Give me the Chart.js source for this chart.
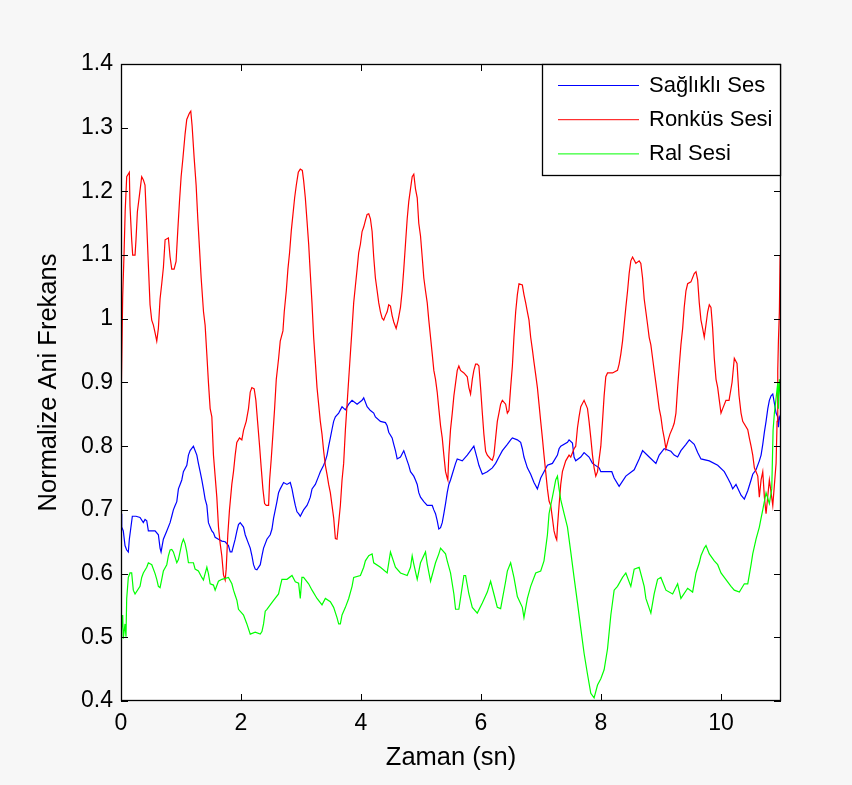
<!DOCTYPE html>
<html>
<head>
<meta charset="utf-8">
<script src="https://cdn.jsdelivr.net/npm/chart.js@4.4.0/dist/chart.umd.min.js"></script>
<style>
  html, body { margin: 0; padding: 0; background: #f7f7f7; }
  canvas { display: block; }
</style>
</head>
<body>
<canvas id="myChart" width="852" height="785"></canvas>
<script>
// tick positions
const xTicks = [0, 2, 4, 6, 8, 10];
const yTicks = [0.4, 0.5, 0.6, 0.7, 0.8, 0.9, 1.0, 1.1, 1.2, 1.3, 1.4];
const seriesNames = ['Sağlıklı Ses', 'Ronküs Sesi', 'Ral Sesi'];

// Sağlıklı Ses (blue)
const healthyTime = [
  0,0.012,0.038,0.067,0.095,0.122,0.139,0.189,0.25,0.317,
  0.372,0.401,0.429,0.456,0.513,0.568,0.623,0.651,0.668,0.706,
  0.763,0.818,0.846,0.873,0.902,0.93,0.957,0.985,1.013,1.04,
  1.097,1.124,1.152,1.207,1.264,1.29,1.319,1.347,1.374,1.402,
  1.431,1.457,1.486,1.514,1.541,1.569,1.624,1.681,1.736,1.791,
  1.82,1.848,1.875,1.903,1.932,1.958,1.987,2.042,2.07,2.125,
  2.154,2.182,2.209,2.237,2.265,2.321,2.349,2.376,2.432,2.487,
  2.516,2.543,2.571,2.599,2.626,2.654,2.71,2.766,2.821,2.85,
  2.876,2.905,2.933,2.96,2.988,3.043,3.1,3.127,3.155,3.184,
  3.239,3.294,3.322,3.377,3.406,3.434,3.461,3.489,3.518,3.544,
  3.573,3.628,3.684,3.74,3.795,3.851,3.935,4.018,4.045,4.102,
  4.157,4.212,4.24,4.324,4.407,4.436,4.462,4.519,4.546,4.574,
  4.603,4.658,4.713,4.77,4.796,4.825,4.88,4.908,4.937,4.963,
  4.992,5.047,5.104,5.187,5.214,5.242,5.27,5.297,5.326,5.354,
  5.381,5.409,5.437,5.464,5.492,5.521,5.576,5.604,5.688,5.771,
  5.826,5.881,5.938,5.965,6.022,6.105,6.189,6.244,6.299,6.356,
  6.439,6.494,6.523,6.606,6.661,6.689,6.716,6.773,6.828,6.883,
  6.94,6.995,7.05,7.107,7.19,7.274,7.301,7.329,7.441,7.468,
  7.524,7.551,7.579,7.663,7.718,7.801,7.858,7.969,7.997,8.18,
  8.219,8.302,8.414,8.553,8.636,8.693,8.803,8.915,8.97,9.053,
  9.165,9.22,9.277,9.332,9.416,9.471,9.554,9.611,9.666,9.805,
  9.945,10.055,10.112,10.167,10.195,10.25,10.334,10.389,10.446,10.501,
  10.529,10.584,10.639,10.668,10.696,10.723,10.751,10.78,10.806,10.835,
  10.863,10.918,10.946,10.957,10.973,11.0
];
const healthyValues = [
  0.694,0.673,0.667,0.644,0.637,0.634,0.654,0.69,0.69,0.688,
  0.68,0.685,0.683,0.667,0.667,0.667,0.661,0.64,0.634,0.654,
  0.667,0.68,0.69,0.70,0.707,0.713,0.733,0.74,0.747,0.76,
  0.77,0.786,0.793,0.80,0.786,0.773,0.76,0.747,0.733,0.717,
  0.707,0.68,0.673,0.667,0.664,0.657,0.654,0.651,0.65,0.644,
  0.634,0.634,0.644,0.654,0.667,0.677,0.68,0.673,0.661,0.647,
  0.64,0.628,0.614,0.607,0.606,0.614,0.628,0.64,0.654,0.661,
  0.67,0.687,0.70,0.713,0.727,0.733,0.743,0.74,0.743,0.733,
  0.72,0.707,0.697,0.694,0.69,0.70,0.707,0.713,0.72,0.733,
  0.74,0.753,0.76,0.77,0.777,0.786,0.80,0.813,0.827,0.839,
  0.846,0.852,0.862,0.857,0.866,0.872,0.866,0.872,0.876,0.862,
  0.856,0.852,0.846,0.839,0.837,0.832,0.822,0.813,0.803,0.793,
  0.78,0.783,0.793,0.777,0.77,0.76,0.753,0.747,0.74,0.727,
  0.72,0.713,0.707,0.707,0.70,0.694,0.683,0.67,0.672,0.68,
  0.694,0.71,0.727,0.74,0.747,0.756,0.773,0.78,0.777,0.786,
  0.793,0.80,0.78,0.77,0.756,0.76,0.766,0.773,0.783,0.793,
  0.803,0.81,0.813,0.81,0.806,0.796,0.783,0.766,0.756,0.743,
  0.733,0.75,0.76,0.77,0.773,0.786,0.796,0.80,0.806,0.81,
  0.805,0.783,0.777,0.783,0.79,0.783,0.773,0.766,0.76,0.76,
  0.75,0.737,0.753,0.763,0.78,0.793,0.783,0.773,0.786,0.796,
  0.792,0.786,0.783,0.793,0.803,0.81,0.803,0.79,0.78,0.777,
  0.77,0.76,0.75,0.74,0.733,0.74,0.723,0.717,0.73,0.747,
  0.756,0.763,0.777,0.786,0.803,0.822,0.839,0.859,0.872,0.879,
  0.882,0.852,0.846,0.83,0.846,0.84
];

// Ronküs Sesi (red)
const rhonchusTime = [
  0,0.005,0.028,0.05,0.07,0.095,0.139,0.15,0.178,0.195,
  0.234,0.25,0.273,0.306,0.345,0.373,0.40,0.428,0.456,0.484,
  0.512,0.54,0.568,0.596,0.623,0.651,0.679,0.707,0.735,0.79,
  0.818,0.846,0.885,0.918,0.946,0.974,1.002,1.03,1.068,1.096,
  1.141,1.163,1.185,1.219,1.252,1.28,1.308,1.336,1.375,1.402,
  1.43,1.458,1.486,1.514,1.541,1.569,1.597,1.625,1.653,1.68,
  1.708,1.736,1.753,1.78,1.808,1.847,1.875,1.903,1.93,1.975,
  2.014,2.042,2.087,2.125,2.154,2.181,2.22,2.248,2.276,2.31,
  2.337,2.365,2.393,2.421,2.46,2.477,2.504,2.532,2.56,2.588,
  2.627,2.654,2.699,2.721,2.755,2.782,2.81,2.838,2.866,2.894,
  2.922,2.955,2.988,3.022,3.044,3.072,3.1,3.128,3.155,3.183,
  3.211,3.239,3.267,3.294,3.322,3.35,3.378,3.406,3.433,3.461,
  3.489,3.517,3.545,3.573,3.6,3.628,3.656,3.684,3.711,3.74,
  3.768,3.795,3.823,3.851,3.878,3.906,3.935,3.962,3.99,4.018,
  4.045,4.073,4.102,4.129,4.157,4.185,4.212,4.24,4.269,4.296,
  4.324,4.352,4.379,4.407,4.436,4.462,4.491,4.519,4.546,4.586,
  4.619,4.658,4.686,4.713,4.741,4.77,4.796,4.825,4.853,4.88,
  4.908,4.937,4.963,4.992,5.02,5.047,5.075,5.104,5.13,5.159,
  5.187,5.214,5.242,5.27,5.297,5.326,5.354,5.381,5.409,5.437,
  5.447,5.464,5.492,5.521,5.548,5.576,5.604,5.631,5.659,5.715,
  5.771,5.798,5.826,5.855,5.881,5.91,5.938,5.965,5.993,6.022,
  6.048,6.077,6.105,6.16,6.189,6.215,6.244,6.272,6.299,6.327,
  6.356,6.411,6.439,6.466,6.494,6.523,6.549,6.578,6.606,6.633,
  6.689,6.716,6.745,6.773,6.8,6.828,6.856,6.883,6.912,6.94,
  6.967,6.995,7.023,7.05,7.078,7.107,7.134,7.162,7.19,7.217,
  7.245,7.262,7.274,7.301,7.329,7.357,7.412,7.468,7.496,7.551,
  7.579,7.608,7.634,7.663,7.718,7.775,7.801,7.83,7.858,7.885,
  7.913,7.942,7.997,8.025,8.052,8.08,8.109,8.192,8.275,8.302,
  8.331,8.359,8.386,8.414,8.443,8.469,8.497,8.526,8.581,8.636,
  8.664,8.693,8.72,8.748,8.776,8.803,8.831,8.86,8.886,8.915,
  8.943,8.97,8.998,9.027,9.053,9.082,9.12,9.149,9.194,9.22,
  9.249,9.277,9.304,9.332,9.361,9.387,9.416,9.444,9.499,9.554,
  9.583,9.611,9.638,9.666,9.694,9.721,9.75,9.778,9.805,9.833,
  9.861,9.888,9.917,9.945,9.972,10.0,10.028,10.083,10.134,10.184,
  10.222,10.267,10.3,10.334,10.362,10.446,10.472,10.501,10.529,10.556,
  10.584,10.613,10.639,10.668,10.696,10.723,10.751,10.806,10.835,10.863,
  10.918,10.935,10.946,10.957,10.973,10.985,11.0
];
const rhonchusValues = [
  0.78,0.885,1.034,1.10,1.17,1.223,1.23,1.177,1.124,1.10,
  1.10,1.124,1.168,1.193,1.223,1.218,1.21,1.15,1.085,1.022,
  0.998,0.99,0.978,0.965,0.985,1.031,1.055,1.081,1.124,1.127,
  1.097,1.078,1.078,1.09,1.138,1.183,1.223,1.25,1.29,1.313,
  1.323,1.326,1.303,1.253,1.21,1.157,1.111,1.064,1.011,0.99,
  0.945,0.899,0.859,0.846,0.786,0.753,0.72,0.673,0.647,0.628,
  0.598,0.59,0.607,0.661,0.70,0.74,0.76,0.786,0.806,0.813,
  0.81,0.825,0.839,0.859,0.885,0.892,0.89,0.872,0.839,0.80,
  0.766,0.733,0.71,0.707,0.707,0.747,0.78,0.819,0.859,0.905,
  0.938,0.965,0.981,1.011,1.044,1.078,1.104,1.138,1.164,1.19,
  1.21,1.23,1.235,1.233,1.217,1.19,1.154,1.117,1.071,1.025,
  0.971,0.932,0.892,0.866,0.839,0.819,0.792,0.77,0.756,0.74,
  0.727,0.707,0.687,0.655,0.654,0.68,0.707,0.747,0.773,0.826,
  0.866,0.905,0.945,0.985,1.025,1.051,1.078,1.104,1.117,1.137,
  1.144,1.154,1.164,1.165,1.157,1.137,1.097,1.064,1.044,1.025,
  1.011,1.001,0.998,1.005,1.011,1.022,1.02,1.005,0.995,0.985,
  0.998,1.018,1.044,1.078,1.117,1.157,1.184,1.204,1.223,1.227,
  1.204,1.19,1.15,1.13,1.097,1.064,1.044,1.025,0.998,0.971,
  0.945,0.919,0.905,0.885,0.859,0.832,0.813,0.786,0.76,0.75,
  0.747,0.786,0.826,0.852,0.879,0.899,0.919,0.926,0.919,0.915,
  0.909,0.892,0.882,0.905,0.919,0.929,0.929,0.926,0.892,0.852,
  0.819,0.792,0.786,0.78,0.778,0.786,0.813,0.839,0.852,0.866,
  0.872,0.866,0.852,0.856,0.892,0.926,0.971,1.011,1.038,1.055,
  1.053,1.038,1.025,1.011,0.998,0.971,0.952,0.932,0.912,0.892,
  0.866,0.839,0.813,0.786,0.76,0.733,0.714,0.707,0.687,0.667,
  0.657,0.653,0.673,0.707,0.74,0.76,0.777,0.786,0.783,0.796,
  0.80,0.829,0.846,0.862,0.872,0.859,0.839,0.813,0.786,0.766,
  0.753,0.76,0.80,0.839,0.879,0.909,0.915,0.915,0.919,0.929,
  0.945,0.965,0.991,1.018,1.044,1.071,1.091,1.097,1.087,1.091,
  1.087,1.064,1.031,1.011,0.991,0.971,0.959,0.938,0.919,0.899,
  0.879,0.859,0.846,0.826,0.813,0.796,0.81,0.819,0.829,0.836,
  0.852,0.892,0.926,0.959,0.985,1.018,1.044,1.055,1.058,1.071,
  1.074,1.061,1.025,0.998,0.985,0.971,0.991,1.011,1.022,1.018,
  0.985,0.938,0.905,0.892,0.872,0.852,0.859,0.872,0.872,0.90,
  0.938,0.93,0.88,0.852,0.839,0.826,0.813,0.80,0.786,0.766,
  0.76,0.753,0.72,0.747,0.76,0.72,0.694,0.747,0.727,0.707,
  0.773,0.839,0.919,0.965,1.011,1.097,1.095
];

// Ral Sesi (green)
const cracklesTime = [
  0,0.005,0.028,0.038,0.067,0.083,0.095,0.122,0.15,0.178,
  0.205,0.234,0.317,0.345,0.372,0.429,0.456,0.513,0.568,0.596,
  0.623,0.651,0.679,0.706,0.763,0.79,0.818,0.846,0.873,0.93,
  0.957,1.013,1.04,1.068,1.097,1.124,1.207,1.235,1.29,1.347,
  1.374,1.402,1.431,1.457,1.486,1.541,1.569,1.624,1.681,1.791,
  1.848,1.875,1.903,1.932,1.958,2.014,2.042,2.098,2.154,2.237,
  2.321,2.349,2.376,2.404,2.432,2.487,2.543,2.626,2.654,2.682,
  2.766,2.85,2.905,2.96,2.988,3.015,3.043,3.127,3.184,3.267,
  3.35,3.406,3.489,3.544,3.6,3.628,3.656,3.684,3.74,3.795,
  3.851,3.878,3.99,4.045,4.073,4.129,4.185,4.212,4.324,4.436,
  4.491,4.574,4.658,4.77,4.825,4.853,4.88,4.937,4.992,5.075,
  5.104,5.159,5.242,5.297,5.326,5.409,5.437,5.492,5.548,5.576,
  5.631,5.688,5.715,5.743,5.798,5.855,5.938,6.022,6.105,6.16,
  6.215,6.272,6.327,6.411,6.439,6.494,6.549,6.606,6.689,6.716,
  6.773,6.828,6.912,6.995,7.05,7.078,7.107,7.134,7.162,7.19,
  7.217,7.245,7.274,7.301,7.329,7.385,7.441,7.496,7.551,7.608,
  7.663,7.718,7.775,7.83,7.885,7.942,7.997,8.052,8.109,8.164,
  8.219,8.275,8.359,8.414,8.497,8.553,8.636,8.72,8.748,8.831,
  8.886,8.943,8.998,9.082,9.194,9.277,9.332,9.444,9.527,9.583,
  9.638,9.666,9.721,9.75,9.805,9.888,9.945,10.0,10.055,10.167,
  10.222,10.306,10.389,10.446,10.501,10.529,10.584,10.639,10.668,10.696,
  10.751,10.806,10.846,10.868,10.89,10.946,10.957,10.973,11.0
];
const cracklesValues = [
  0.547,0.508,0.535,0.498,0.521,0.501,0.561,0.594,0.601,0.601,
  0.574,0.568,0.58,0.594,0.601,0.61,0.617,0.614,0.60,0.591,
  0.58,0.578,0.591,0.604,0.614,0.628,0.637,0.638,0.634,0.617,
  0.622,0.647,0.654,0.647,0.634,0.617,0.617,0.607,0.604,0.594,
  0.59,0.60,0.61,0.60,0.584,0.582,0.574,0.588,0.591,0.594,
  0.584,0.574,0.566,0.558,0.544,0.538,0.535,0.521,0.505,0.508,
  0.505,0.509,0.521,0.541,0.544,0.551,0.558,0.568,0.58,0.591,
  0.591,0.597,0.587,0.585,0.561,0.594,0.594,0.584,0.574,0.561,
  0.551,0.561,0.556,0.547,0.531,0.521,0.521,0.535,0.547,0.561,
  0.58,0.594,0.597,0.61,0.62,0.628,0.631,0.617,0.61,0.601,
  0.634,0.61,0.601,0.597,0.61,0.628,0.615,0.591,0.617,0.634,
  0.615,0.588,0.617,0.631,0.64,0.631,0.62,0.601,0.568,0.544,
  0.544,0.58,0.597,0.597,0.568,0.547,0.538,0.554,0.571,0.588,
  0.568,0.547,0.545,0.588,0.604,0.617,0.594,0.564,0.547,0.531,
  0.561,0.58,0.601,0.604,0.62,0.64,0.661,0.694,0.707,0.72,
  0.733,0.747,0.753,0.733,0.716,0.694,0.673,0.634,0.594,0.554,
  0.514,0.475,0.442,0.412,0.405,0.425,0.435,0.449,0.482,0.535,
  0.574,0.58,0.594,0.601,0.58,0.607,0.61,0.58,0.561,0.538,
  0.568,0.591,0.594,0.574,0.568,0.584,0.561,0.577,0.571,0.601,
  0.617,0.628,0.64,0.644,0.631,0.62,0.614,0.601,0.594,0.58,
  0.574,0.571,0.584,0.584,0.614,0.631,0.654,0.673,0.687,0.70,
  0.727,0.71,0.733,0.825,0.852,0.899,0.859,0.905,0.87
];

const FONT = "'Liberation Sans', Arial, Helvetica, sans-serif";

const toPoints = (times, values) => times.map((t, i) => ({ x: t, y: values[i] }));

// page and plot backgrounds
const backgroundPlugin = {
    id: 'background',
    beforeDraw: (chart) => {
        const { ctx, chartArea: a } = chart;
        ctx.save();
        ctx.fillStyle = '#f7f7f7';
        ctx.fillRect(0, 0, chart.width, chart.height);
        ctx.fillStyle = '#ffffff';
        ctx.fillRect(a.left, a.top, a.right - a.left, a.bottom - a.top);
        ctx.restore();
    }
};

// box around the plot with inward ticks on every side
const framePlugin = {
    id: 'frame',
    afterDatasetsDraw: (chart) => {
        const { ctx, chartArea: a, scales } = chart;
        const len = 7;
        ctx.save();
        ctx.strokeStyle = '#000';
        ctx.lineWidth = 1;
        ctx.beginPath();
        scales.x.ticks.forEach(t => {
            const px = Math.round(scales.x.getPixelForValue(t.value)) + 0.5;
            ctx.moveTo(px, a.bottom); ctx.lineTo(px, a.bottom - len);
            ctx.moveTo(px, a.top); ctx.lineTo(px, a.top + len);
        });
        scales.y.ticks.forEach(t => {
            const py = Math.round(scales.y.getPixelForValue(t.value)) + 0.5;
            ctx.moveTo(a.left, py); ctx.lineTo(a.left + len, py);
            ctx.moveTo(a.right, py); ctx.lineTo(a.right - len, py);
        });
        ctx.stroke();
        ctx.lineWidth = 1.3;
        ctx.strokeRect(a.left + 0.5, a.top + 0.5, a.right - a.left - 1, a.bottom - a.top - 1);
        ctx.restore();
    }
};

// MATLAB style legend in the top right corner
const legendPlugin = {
    id: 'boxLegend',
    afterDraw: (chart) => {
        const { ctx, chartArea: a } = chart;
        const w = 238, h = 111;
        const x0 = a.right - w - 1, y0 = a.top;
        ctx.save();
        ctx.fillStyle = '#fff';
        ctx.fillRect(x0, y0, w, h);
        ctx.strokeStyle = '#000';
        ctx.lineWidth = 1.3;
        ctx.strokeRect(x0 + 0.5, y0 + 0.5, w, h);
        ctx.font = '22px ' + FONT;
        ctx.textBaseline = 'middle';
        ctx.fillStyle = '#000';
        chart.data.datasets.forEach((ds, i) => {
            const y = y0 + 21 + i * 34.2;
            ctx.strokeStyle = ds.borderColor;
            ctx.lineWidth = 1;
            ctx.beginPath();
            ctx.moveTo(x0 + 16, y + 0.5);
            ctx.lineTo(x0 + 97, y + 0.5);
            ctx.stroke();
            ctx.fillText(ds.label, x0 + 107, y + 1);
        });
        ctx.restore();
    }
};

const ctx = document.getElementById('myChart').getContext('2d');
new Chart(ctx, {
    type: 'line',
    data: {
        datasets: [
            { label: seriesNames[0], data: toPoints(healthyTime, healthyValues), borderColor: '#0000ff', order: 2 },
            { label: seriesNames[1], data: toPoints(rhonchusTime, rhonchusValues), borderColor: '#ff0000', order: 1 },
            { label: seriesNames[2], data: toPoints(cracklesTime, cracklesValues), borderColor: '#00ff00', order: 0 }
        ]
    },
    options: {
        responsive: false,
        animation: false,
        devicePixelRatio: 1,
        elements: {
            point: { radius: 0 },
            line: { borderWidth: 1.2, tension: 0 }
        },
        layout: { padding: { top: 64, right: 71, left: 0, bottom: 0 } },
        plugins: {
            legend: { display: false },
            tooltip: { enabled: false }
        },
        scales: {
            x: {
                type: 'linear',
                min: 0,
                max: 11,
                afterBuildTicks: (s) => { s.ticks = xTicks.map(v => ({ value: v })); },
                afterFit: (s) => { s.height = 84; },
                grid: { display: false, drawTicks: false },
                border: { display: false },
                ticks: { padding: 9, color: '#000', maxRotation: 0, font: { family: FONT, size: 23 } },
                title: {
                    display: true, text: 'Zaman (sn)', color: '#000',
                    font: { family: FONT, size: 25.5 }, padding: { top: 0, bottom: 12 }
                }
            },
            y: {
                type: 'linear',
                min: 0.4,
                max: 1.4,
                afterBuildTicks: (s) => { s.ticks = yTicks.map(v => ({ value: v })); },
                afterFit: (s) => { s.width = 121; },
                grid: { display: false, drawTicks: false },
                border: { display: false },
                ticks: {
                    padding: 8, color: '#000', font: { family: FONT, size: 23 },
                    callback: (v) => String(Math.round(v * 10) / 10)
                },
                title: {
                    display: true, text: 'Normalize Ani Frekans', color: '#000',
                    font: { family: FONT, size: 25.5 }, padding: { top: 34, bottom: 0 }
                }
            }
        }
    },
    plugins: [backgroundPlugin, framePlugin, legendPlugin]
});
</script>
</body>
</html>
